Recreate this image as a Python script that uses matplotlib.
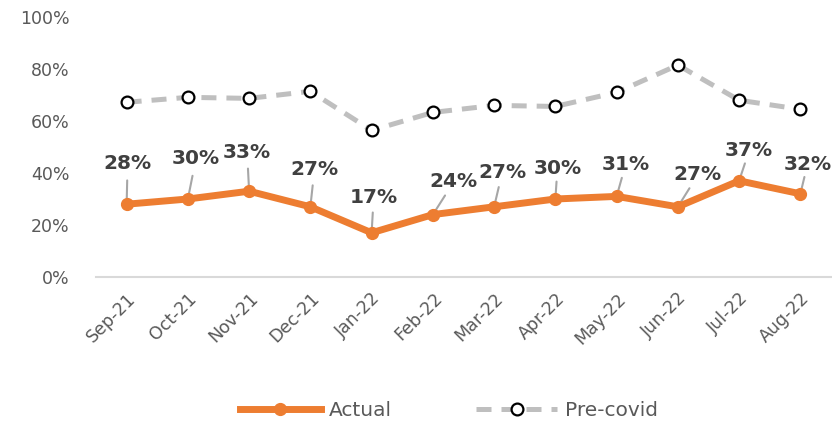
import matplotlib
matplotlib.use("Agg")
import matplotlib.pyplot as plt
import matplotlib.transforms as mtransforms
from matplotlib.ticker import PercentFormatter

months = ["Sep-21", "Oct-21", "Nov-21", "Dec-21", "Jan-22", "Feb-22",
          "Mar-22", "Apr-22", "May-22", "Jun-22", "Jul-22", "Aug-22"]
actual = [28, 30, 33, 27, 17, 24, 27, 30, 31, 27, 37, 32]
precovid = [67.2, 69.1, 68.7, 71.4, 56.4, 63.3, 66.0, 65.6, 71.0, 81.5, 68.0, 64.5]
yticks = [0, 20, 40, 60, 80, 100]

# label offsets in pixels (dx, dy) relative to the data point
label_offsets = [(1, 41), (8, 40), (-2, 39), (4, 37), (2, 35), (21, 33),
                 (8, 34), (2, 30), (9, 32), (20, 32), (10, 30), (7, 29)]

ORANGE = "#ED7D31"
GRAY = "#BFBFBF"
TXT = "#595959"
LBL = "#404040"

plt.rcParams['font.family'] = ['DejaVu Sans']

fig = plt.figure(figsize=(8.32, 4.25), dpi=100)
ax = fig.add_axes([96/832, 148/425, (831-96)/832, (408-148)/425])

x = list(range(len(months)))
ax.plot(x, precovid, color=GRAY, lw=3.6, dashes=(3, 2), marker='o',
        markersize=8.5, markerfacecolor='white', markeredgecolor='black',
        markeredgewidth=1.6, label='Pre-covid', zorder=3)
ax.plot(x, actual, color=ORANGE, lw=5, marker='o', markersize=8.5,
        markerfacecolor=ORANGE, markeredgecolor=ORANGE, label='Actual', zorder=4)

for xi, v, (dx, dy) in zip(x, actual, label_offsets):
    ax.annotate('', xy=(xi, v), xytext=(dx*0.58, dy*0.58), textcoords='offset pixels',
                arrowprops=dict(arrowstyle='-', color='#A6A6A6', lw=1.5,
                                shrinkA=0, shrinkB=0), zorder=2)
    ax.annotate(f"{v}%", xy=(xi, v), xytext=(dx, dy), textcoords='offset pixels',
                ha='center', va='center', fontsize=14.5, fontweight='bold',
                color=LBL, zorder=5)

ax.set_xlim(-0.5, len(months) - 0.5)
ax.set_ylim(0, 100)
ax.set_yticks(yticks)
ax.yaxis.set_major_formatter(PercentFormatter(decimals=0))
ax.set_xticks(x)
ax.set_xticklabels(months, rotation=45, ha='right', va='top', rotation_mode='anchor')
offset = mtransforms.ScaledTranslation(3/100, 0, fig.dpi_scale_trans)
for lab in ax.get_xticklabels():
    lab.set_transform(lab.get_transform() + offset)

ax.tick_params(axis='both', length=0, labelsize=12.5, labelcolor=TXT)
ax.tick_params(axis='y', pad=19)
ax.tick_params(axis='x', pad=9)
for s in ['top', 'right', 'left']:
    ax.spines[s].set_visible(False)
ax.spines['bottom'].set_color('#D9D9D9')
ax.spines['bottom'].set_linewidth(1.5)

handles, labels = ax.get_legend_handles_labels()
leg = fig.legend(handles[::-1], labels[::-1], loc='center', bbox_to_anchor=(449/832, 1 - 411/425),
                 ncol=2, frameon=False, fontsize=14.5, handlelength=4.0,
                 columnspacing=4.2, handletextpad=0.4, labelcolor=TXT)

fig.savefig("out.png", dpi=100)
